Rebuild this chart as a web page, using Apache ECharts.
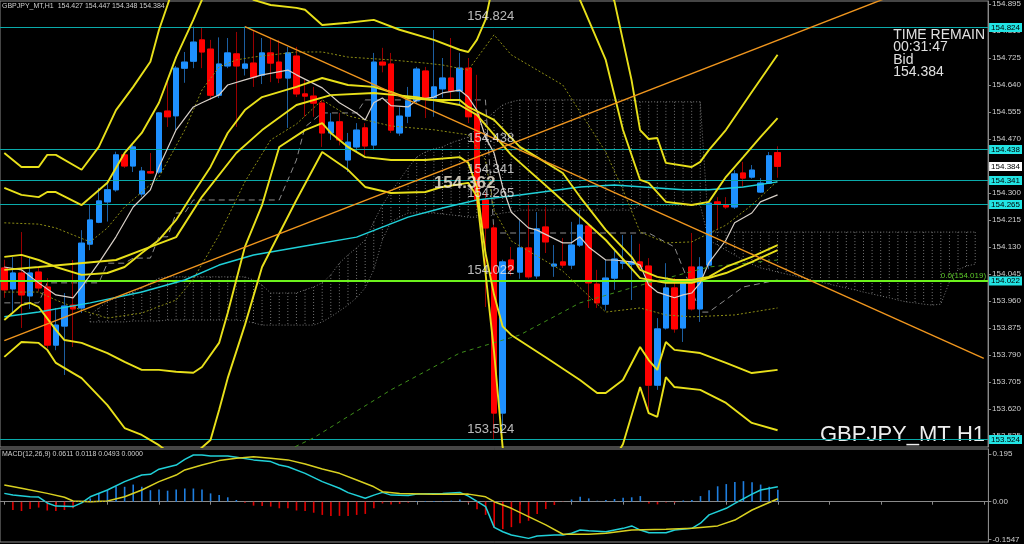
<!DOCTYPE html>
<html><head><meta charset="utf-8">
<script src="https://cdn.jsdelivr.net/npm/echarts@6/dist/echarts.min.js"></script>
<style>html,body{margin:0;padding:0;background:#000;overflow:hidden}#c{width:1024px;height:544px}</style>
</head><body><div id="c"></div>
<script>
// ---------- DATA ----------
const ohlc = [
[154.064,153.995,153.970,154.090],[153.998,154.048,153.922,154.098],[154.048,153.979,153.875,154.177],
[153.976,154.048,153.935,154.098],[154.051,154.001,153.990,154.064],[154.004,153.821,153.810,154.032],
[153.821,153.884,153.805,153.938],[153.881,153.944,153.727,153.985],[153.947,153.935,153.815,154.089],
[153.938,154.142,153.922,154.183],[154.139,154.215,154.120,154.262],[154.208,154.275,154.205,154.316],
[154.272,154.310,154.210,154.331],[154.310,154.420,154.304,154.430],[154.420,154.385,154.379,154.427],
[154.385,154.445,154.366,154.451],[154.297,154.369,154.288,154.382],[154.367,154.363,154.360,154.426],
[154.366,154.552,154.360,154.555],[154.558,154.540,154.508,154.656],[154.543,154.693,154.498,154.700],
[154.693,154.712,154.647,154.744],[154.715,154.775,154.693,154.824],[154.782,154.744,154.693,154.820],
[154.753,154.608,154.593,154.782],[154.608,154.706,154.599,154.790],[154.700,154.741,154.693,154.788],
[154.738,154.700,154.508,154.807],[154.693,154.706,154.670,154.824],[154.709,154.665,154.634,154.813],
[154.671,154.741,154.643,154.788],[154.741,154.709,154.649,154.788],[154.712,154.662,154.646,154.782],
[154.662,154.741,154.505,154.760],[154.731,154.612,154.602,154.760],[154.612,154.605,154.540,154.656],
[154.605,154.583,154.540,154.634],[154.583,154.489,154.445,154.593],[154.489,154.523,154.467,154.552],
[154.524,154.467,154.450,154.552],[154.404,154.460,154.366,154.489],[154.445,154.498,154.430,154.520],
[154.505,154.448,154.420,154.520],[154.451,154.712,154.435,154.741],[154.712,154.703,154.680,154.757],
[154.706,154.498,154.489,154.741],[154.489,154.542,154.480,154.570],[154.542,154.590,154.520,154.634],
[154.590,154.690,154.583,154.697],[154.684,154.600,154.536,154.697],[154.600,154.634,154.540,154.813],
[154.628,154.662,154.600,154.725],[154.662,154.621,154.593,154.788],[154.621,154.693,154.577,154.741],
[154.693,154.540,154.520,154.725],[154.546,154.278,154.255,154.672],[154.278,154.190,153.941,154.300],
[154.190,153.607,153.524,154.200],[153.607,154.083,153.550,154.090],[154.089,154.058,154.040,154.130],
[154.051,154.127,154.030,154.215],[154.127,154.036,154.030,154.270],[154.039,154.187,154.030,154.240],
[154.193,154.146,154.111,154.256],[154.070,154.076,154.036,154.136],[154.083,154.073,154.064,154.158],
[154.073,154.136,154.060,154.209],[154.136,154.199,154.130,154.246],[154.196,154.017,153.938,154.199],
[154.013,153.954,153.938,154.058],[153.950,154.032,153.930,154.089],[154.032,154.092,153.995,154.120],
[154.079,154.083,154.060,154.168],[154.076,154.083,153.963,154.168],[154.083,154.067,154.060,154.140],
[154.070,153.695,153.617,154.095],[153.695,153.872,153.680,153.906],[153.875,154.001,153.870,154.079],
[154.001,153.872,153.860,154.032],[153.875,154.020,153.831,154.026],[154.067,153.935,153.930,154.174],
[153.935,154.067,153.894,154.098],[154.073,154.268,154.060,154.272],[154.272,154.265,154.183,154.287],
[154.262,154.256,154.250,154.287],[154.256,154.360,154.250,154.372],[154.363,154.347,154.319,154.398],
[154.350,154.372,154.345,154.388],[154.303,154.331,154.300,154.347],[154.331,154.417,154.330,154.429],
[154.427,154.384,154.348,154.447]
];
const slotCount = 115;
const priceTicks = [154.895,154.810,154.725,154.640,154.555,154.470,154.385,154.300,154.215,154.130,154.045,153.960,153.875,153.790,153.705,153.620,153.535];
const levelLines = [154.824,154.438,154.341,154.265,153.524];
const fiboLevel = 154.022;
const fiboText = '0.0(154.019)';
const bidPrice = 154.384;
const priceNotes = [[54,154.824,'154.824'],[54,154.438,'154.438'],[54,154.341,'154.341'],[54,154.265,'154.265'],[54,154.022,'154.022'],[54,153.524,'153.524']];
const bigNote = [50,154.332,'154.362'];

const maLong = [[0,153.910],[4,153.925],[10,153.954],[16,153.988],[21,154.026],[25,154.073],[29,154.105],[35,154.133],[41,154.161],[47,154.224],[51,154.253],[55,154.278],[60,154.294],[67,154.319],[71,154.325],[79,154.310],[82,154.310],[86,154.319],[90,154.335]];
const maShort = [[0,154.067],[2,154.058],[4,154.017],[6,153.979],[8,153.970],[9,154.004],[11,154.080],[13,154.162],[15,154.256],[17,154.310],[18,154.382],[20,154.499],[22,154.571],[23,154.584],[25,154.609],[26,154.640],[28,154.656],[30,154.672],[33,154.687],[34,154.672],[37,154.631],[39,154.584],[41,154.552],[42,154.530],[43,154.584],[44,154.599],[45,154.575],[47,154.571],[48,154.593],[50,154.602],[51,154.615],[53,154.624],[54,154.602],[55,154.561],[56,154.476],[57,154.426],[58,154.319],[59,154.240],[61,154.190],[62,154.183],[65,154.143],[66,154.143],[67,154.162],[68,154.130],[70,154.089],[71,154.089],[73,154.083],[74,154.073],[75,154.010],[76,153.988],[78,153.970],[79,153.979],[80,153.985],[81,154.017],[82,154.080],[84,154.152],[85,154.206],[87,154.237],[88,154.272],[90,154.294]];
const maDashed = [[33,153.490],[36,153.529],[45,153.680],[53,153.796],[60,153.853],[67,153.954],[75,154.017],[82,154.067],[90,154.089]];
const bbMid = [[0,154.099],[2,154.105],[4,154.089],[6,154.067],[9,154.042],[12,154.048],[14,154.067],[16,154.111],[18,154.152],[20,154.215],[22,154.300],[24,154.382],[26,154.489],[28,154.561],[30,154.602],[34,154.634],[37,154.662],[40,154.640],[43,154.634],[45,154.618],[47,154.599],[50,154.593],[53,154.593],[54,154.571],[57,154.530],[60,154.445],[62,154.413],[65,154.363],[67,154.288],[70,154.184],[73,154.099],[74,154.058],[76,154.036],[78,154.026],[80,154.026],[82,154.036],[84,154.067],[87,154.099],[90,154.136]];
const maSlow = [[0,154.058],[4,154.067],[13,154.089],[16,154.120],[20,154.161],[23,154.288],[27,154.426],[30,154.498],[34,154.577],[38,154.608],[43,154.615],[48,154.602],[53,154.577],[55,154.546],[59,154.420],[64,154.300],[70,154.152],[74,154.032],[77,154.017],[80,154.017],[84,154.048],[87,154.083],[90,154.120]];
const bbUp3 = [[0,154.426],[2,154.382],[4,154.382],[5,154.420],[6,154.420],[9,154.373],[11,154.445],[13,154.561],[15,154.634],[17,154.713],[18,154.813],[19,154.892],[20,154.971],[24,155.05],[30,154.97],[37,154.93],[45,154.95],[50,154.93],[54,154.92],[57,155.1],[60,155.3],[65,155.3],[67,155.15],[69,154.98],[71,154.905],[73,154.656],[74,154.498],[75,154.470],[76,154.473],[77,154.395],[80,154.382],[81,154.398],[82,154.435],[84,154.499],[87,154.618],[90,154.735]];
const bbUp2 = [[0,154.316],[2,154.294],[4,154.287],[5,154.303],[6,154.303],[9,154.262],[12,154.332],[14,154.426],[16,154.489],[18,154.584],[20,154.728],[22,154.845],[23,154.908],[24,154.99],[26,155.0],[29,154.908],[31,154.892],[34,154.883],[35,154.877],[37,154.829],[40,154.836],[43,154.845],[46,154.814],[50,154.782],[53,154.751],[54,154.744],[55,154.782],[56,154.845],[57,154.971],[58,155.2],[60,155.25],[64,155.05],[67,154.908],[70,154.719],[72,154.499],[74,154.341],[75,154.332],[77,154.272],[80,154.262],[82,154.272],[84,154.351],[86,154.413],[88,154.476],[90,154.536]];
const bbLow2 = [[0,153.900],[2,153.947],[3,153.954],[4,153.941],[6,153.869],[7,153.837],[9,153.828],[12,153.796],[14,153.768],[16,153.743],[18,153.743],[20,153.737],[22,153.734],[23,153.752],[25,153.828],[26,153.922],[27,154.026],[28,154.130],[30,154.262],[32,154.445],[35,154.498],[37,154.520],[38,154.489],[40,154.445],[42,154.413],[45,154.404],[49,154.404],[53,154.413],[54,154.395],[55,154.319],[56,154.111],[57,153.980],[58,153.880],[59,153.853],[63,153.783],[67,153.711],[69,153.670],[70,153.670],[72,153.711],[74,153.815],[75,153.774],[76,153.743],[77,153.831],[78,153.806],[81,153.796],[84,153.765],[87,153.733],[90,153.743]];
const bbLow3 = [[0,153.784],[2,153.831],[4,153.828],[5,153.806],[6,153.765],[8,153.733],[9,153.717],[12,153.632],[14,153.560],[16,153.538],[18,153.506],[20,153.465],[22,153.475],[24,153.522],[25,153.617],[26,153.717],[28,153.884],[30,154.067],[34,154.278],[37,154.429],[40,154.373],[42,154.319],[45,154.300],[49,154.303],[51,154.319],[54,154.332],[55,154.290],[56,154.050],[57,153.800],[58,153.500],[59,153.390],[65,153.270],[70,153.418],[72,153.509],[74,153.689],[75,153.607],[76,153.595],[77,153.720],[78,153.689],[81,153.680],[84,153.639],[87,153.576],[90,153.553]];
const bbUp1 = [[0,154.206],[4,154.202],[6,154.190],[8,154.168],[10,154.146],[12,154.190],[14,154.256],[18,154.350],[21,154.498],[23,154.624],[25,154.697],[27,154.719],[29,154.728],[34,154.744],[37,154.744],[40,154.728],[45,154.719],[49,154.709],[51,154.703],[54,154.687],[57,154.798],[59,154.735],[65,154.640],[70,154.429],[72,154.310],[74,154.177],[77,154.143],[80,154.146],[84,154.199],[87,154.262],[90,154.338]];
const bbLow1 = [[0,153.988],[4,153.988],[6,153.963],[9,153.931],[12,153.906],[16,153.922],[20,153.963],[22,154.029],[25,154.168],[28,154.335],[31,154.467],[34,154.517],[37,154.593],[40,154.543],[45,154.511],[50,154.499],[54,154.483],[56,154.404],[57,154.246],[59,154.149],[65,154.054],[70,153.925],[74,153.938],[77,153.916],[80,153.910],[85,153.916],[90,153.938]];
const kijun = [[0,153.954],[4,153.954],[5,154.017],[11,154.017],[12,154.079],[14,154.079],[15,154.095],[17,154.095],[18,154.162],[19,154.162],[20,154.237],[21,154.237],[22,154.278],[32,154.278],[34,154.404],[35,154.508],[37,154.552],[41,154.552],[42,154.593],[56,154.593],[57,154.174],[75,154.174],[78,154.130],[80,153.995],[81,153.925],[82,153.925],[86,154.004],[90,154.026]];
const cloud = [
[10,153.916,153.894],[11,153.938,153.894],[12,153.957,153.894],[13,153.970,153.894],[14,153.979,153.894],[15,153.988,153.897],[16,154.001,153.897],[17,154.017,153.897],[18,154.032,153.897],[19,154.036,153.900],[20,154.036,153.900],[21,154.036,153.900],[22,154.036,153.900],[23,154.036,153.900],[24,154.036,153.900],[25,154.036,153.900],[26,154.036,153.900],[27,154.036,153.900],[28,154.036,153.897],[29,154.026,153.891],[30,154.010,153.884],[31,153.985,153.884],[32,153.985,153.884],[33,153.985,153.884],[34,153.985,153.884],[35,153.995,153.884],[36,154.004,153.884],[37,154.017,153.894],[38,154.042,153.910],[39,154.079,153.928],[40,154.105,153.947],[41,154.127,153.970],[42,154.152,154.001],[43,154.209,154.058],[44,154.262,154.152],[45,154.303,154.209],[46,154.341,154.224],[47,154.379,154.237],[48,154.413,154.237],[49,154.429,154.237],[50,154.439,154.237],[51,154.445,154.234],[52,154.458,154.231],[53,154.467,154.228],[54,154.476,154.224],[55,154.505,154.224],[56,154.530,154.224],[57,154.555,154.231],[58,154.577,154.237],[59,154.587,154.240],
[60,154.593,154.246],[61,154.593,154.246],[62,154.593,154.246],[63,154.593,154.246],[64,154.593,154.246],[65,154.593,154.246],[66,154.593,154.246],[67,154.593,154.246],[68,154.593,154.246],[69,154.593,154.246],[70,154.593,154.246],[71,154.593,154.246],[72,154.593,154.246],[73,154.593,154.246],[74,154.587,154.262],[75,154.587,154.262],[76,154.587,154.262],[77,154.587,154.262],[78,154.587,154.262],[79,154.587,154.262],[80,154.587,154.262],[81,154.587,154.262],
[82,154.177,154.152],[83,154.177,154.136],[84,154.177,154.120],[85,154.177,154.105],[86,154.177,154.089],[87,154.177,154.076],[88,154.177,154.064],[89,154.177,154.058],[90,154.177,154.051],[91,154.177,154.045],[92,154.177,154.039],[93,154.177,154.032],[94,154.177,154.026],[95,154.177,154.020],[96,154.177,154.013],[97,154.177,154.007],[98,154.177,154.001],[99,154.177,153.995],[100,154.177,153.988],[101,154.177,153.982],[102,154.177,153.976],[103,154.177,153.970],[104,154.177,153.963],[105,154.177,153.957],[106,154.177,153.954],[107,154.177,153.950],[108,154.177,153.947],[109,154.177,153.950],[110,154.177,154.020],[111,154.177,154.058],[112,154.177,154.070],[113,154.177,154.076]
];
const trendUp = [[0,153.835],[114,155.033]];
const trendDown = [[28,154.824],[114,153.779]];

const macdMain = [[0,0.034],[1,0.027],[3,0.020],[4,0.019],[5,-0.005],[6,-0.018],[8,-0.020],[9,-0.005],[10,0.020],[12,0.048],[14,0.082],[16,0.109],[17,0.112],[18,0.133],[20,0.150],[21,0.173],[22,0.191],[23,0.191],[24,0.187],[26,0.187],[27,0.182],[29,0.171],[31,0.164],[32,0.150],[33,0.143],[35,0.116],[37,0.082],[39,0.055],[40,0.037],[42,0.014],[43,0.027],[44,0.038],[45,0.027],[47,0.025],[48,0.031],[51,0.034],[53,0.038],[54,0.023],[56,-0.020],[57,-0.105],[58,-0.123],[59,-0.136],[61,-0.150],[62,-0.140],[64,-0.136],[65,-0.136],[66,-0.129],[67,-0.116],[68,-0.119],[70,-0.123],[72,-0.109],[73,-0.099],[74,-0.116],[75,-0.127],[77,-0.127],[78,-0.116],[80,-0.109],[81,-0.088],[82,-0.054],[84,-0.027],[85,-0.007],[87,0.031],[88,0.048],[90,0.061]];
const macdSignal = [[0,0.068],[2,0.055],[5,0.034],[7,0.018],[8,0.003],[10,0.000],[12,0.003],[14,0.020],[16,0.048],[18,0.082],[20,0.109],[21,0.130],[23,0.150],[25,0.168],[27,0.178],[29,0.184],[31,0.178],[33,0.171],[35,0.154],[37,0.134],[39,0.116],[41,0.089],[43,0.061],[44,0.041],[46,0.034],[50,0.030],[54,0.031],[56,0.020],[57,0.000],[59,-0.027],[61,-0.061],[63,-0.095],[65,-0.133],[68,-0.133],[70,-0.129],[73,-0.116],[77,-0.113],[80,-0.109],[83,-0.099],[85,-0.075],[87,-0.034],[90,0.012]];
const macdHist = [0,-0.034,-0.038,-0.030,-0.024,-0.036,-0.038,-0.034,-0.027,0.003,0.0135,0.034,0.047,0.063,0.061,0.070,0.061,0.047,0.050,0.045,0.050,0.054,0.054,0.050,0.034,0.027,0.018,0.007,-0.004,-0.016,-0.018,-0.020,-0.027,-0.027,-0.036,-0.038,-0.045,-0.054,-0.058,-0.058,-0.058,-0.054,-0.050,-0.027,-0.007,-0.011,-0.009,-0.004,0.003,0.003,0.003,0.003,0.004,0.009,-0.004,-0.031,-0.054,-0.108,-0.112,-0.104,-0.088,-0.078,-0.050,-0.030,-0.0135,-0.001,0.009,0.020,0.0135,0.004,0.007,0.011,0.016,0.018,0.023,-0.007,-0.011,-0.003,-0.004,0.005,0.007,0.023,0.047,0.063,0.072,0.081,0.084,0.080,0.070,0.061,0.049];
const macdTicks = [0.195, 0, -0.1547];

// ---------- CHART ----------
const FONT = '"Liberation Sans", Arial, sans-serif';
const YEL = '#e8e01a';
const cats = Array.from({length: slotCount}, (_, i) => String(i));
const chart = echarts.init(document.getElementById('c'), null, {renderer: 'canvas'});

const lineSer = (data, color, width, type, z) => ({type:'line', xAxisIndex:0, yAxisIndex:0, data, symbol:'none', silent:true, connectNulls:true, clip:true, z: z === undefined ? 5 : z, lineStyle:{color, width, type: type || 'solid', opacity:1}});

// horizontal level series: a full-width line plus a price tag in the right margin
const hLineSer = (values, lineColor, lineWidth, tagBg, showLine, z) => ({
  type:'custom', xAxisIndex:0, yAxisIndex:0, data: values.map(v => [v]), silent:true, clip:false, z: z,
  renderItem: (params, api) => {
    const cs = params.coordSys;
    const v = api.value(0);
    const y = Math.round(api.coord([0, v])[1]) + (lineWidth % 2 ? 0.5 : 0);
    const kids = [];
    if (showLine) kids.push({type:'line', shape:{x1: cs.x, y1: y, x2: cs.x + cs.width, y2: y}, style:{stroke: lineColor, lineWidth: lineWidth}});
    if (tagBg) kids.push({type:'text', x: cs.x + cs.width + 1, y: y, style:{text: v.toFixed(3), fill:'#000', backgroundColor: tagBg, padding:[1,2,0,2], font:'8px ' + FONT, verticalAlign:'middle', align:'left', lineHeight:8}});
    return {type:'group', children: kids};
  }
});

const bodies = ohlc.map(d => [d[0], d[1], Math.min(d[0],d[1]), Math.max(d[0],d[1])]);
const cloudTop = cloud.map(c => [c[0], c[1]]);
const cloudBot = cloud.map(c => [c[0], c[2]]);

const option = {
  animation: false,
  backgroundColor: '#000',
  grid: [
    {left: -6.3, top: 1, width: 994.7, height: 446, show: true, borderColor: '#8a8a8a', borderWidth: 1, containLabel: false},
    {left: -6.3, top: 449, width: 994.7, height: 93, show: true, borderColor: '#8a8a8a', borderWidth: 1, containLabel: false}
  ],
  xAxis: [
    {type:'category', data: cats, gridIndex:0, boundaryGap:true, axisLine:{show:false}, axisTick:{show:false}, axisLabel:{show:false}, splitLine:{show:false}},
    {type:'category', data: cats, gridIndex:1, boundaryGap:true, axisLine:{show:true, lineStyle:{color:'#8a8a8a'}}, axisTick:{show:true, interval:5, alignWithLabel:true, length:3, lineStyle:{color:'#8a8a8a'}}, axisLabel:{show:false}, splitLine:{show:false}}
  ],
  yAxis: [
    {type:'value', gridIndex:0, position:'right', min:153.5002, max:154.9045, scale:true,
     axisLine:{show:true, lineStyle:{color:'#8a8a8a'}}, splitLine:{show:false},
     axisTick:{show:true, length:3, customValues: priceTicks, lineStyle:{color:'#8a8a8a'}},
     axisLabel:{show:true, customValues: priceTicks, formatter: v => v.toFixed(3), color:'#cfcfcf', fontSize:8, fontFamily:FONT, margin:4}},
    {type:'value', gridIndex:1, position:'right', min:-0.1648, max:0.2155,
     axisLine:{show:true, lineStyle:{color:'#8a8a8a'}}, splitLine:{show:false},
     axisTick:{show:true, length:3, customValues: macdTicks, lineStyle:{color:'#8a8a8a'}},
     axisLabel:{show:true, customValues: macdTicks, formatter: v => v === 0 ? '0.00' : (v === 0.195 ? '0.195' : String(v)), color:'#cfcfcf', fontSize:8, fontFamily:FONT, margin:4}}
  ],
  series: [
    {type:'custom', xAxisIndex:0, yAxisIndex:0, data: cloud, silent:true, z:1, clip:true,
     renderItem: (params, api) => {
       const a = api.coord([api.value(0), api.value(1)]);
       const b = api.coord([api.value(0), api.value(2)]);
       return {type:'line', shape:{x1:a[0], y1:a[1], x2:b[0], y2:b[1]}, style:{stroke:'#727272', lineWidth:1, lineDash:[1,2]}};
     }},
    lineSer(cloudTop, '#7a7a7a', 1, [1,2], 1),
    lineSer(cloudBot, '#7a7a7a', 1, [1,2], 1),
    lineSer(kijun, '#8c8c8c', 1, [6,4], 1),
    hLineSer(levelLines, '#0aaaaa', 1, '#22e4e4', true, 4),
    hLineSer([fiboLevel], '#6cf21c', 2, '#22e4e4', true, 4),
    hLineSer([bidPrice], '#000', 1, '#ffffff', false, 9),
    {type:'line', xAxisIndex:0, yAxisIndex:0, data:[], symbol:'none', silent:true, z:9,
     markLine:{silent:true, symbol:['none','none'], animation:false,
       data:[{yAxis: fiboLevel, lineStyle:{color:'#66f01e', width:0.01}, label:{show:true, position:'insideEndTop', distance:2, formatter: fiboText, color:'#5cc82a', fontSize:8, fontFamily:FONT}}]}},
    {type:'candlestick', xAxisIndex:0, yAxisIndex:0, data: ohlc, barWidth:6, z:2, silent:true,
     itemStyle:{color:'#1e90ff', color0:'#ff0000', borderColor:'#1c5ea0', borderColor0:'#9a0000', borderWidth:1}},
    {type:'candlestick', xAxisIndex:0, yAxisIndex:0, data: bodies, barWidth:6, z:3, silent:true,
     itemStyle:{color:'#1e90ff', color0:'#ff0000', borderColor:'#1e90ff', borderColor0:'#ff0000', borderWidth:1}},
    lineSer(bbUp1, '#8c8c14', 1, [2,2]),
    lineSer(bbLow1, '#8c8c14', 1, [2,2]),
    lineSer(maLong, '#1fd0d8', 1.5),
    lineSer(maShort, '#d8d0c8', 1.2),
    lineSer(maDashed, '#3f8f1a', 1, [4,4]),
    lineSer(bbMid, YEL, 1.9),
    lineSer(maSlow, YEL, 1.9),
    lineSer(bbUp2, YEL, 1.9),
    lineSer(bbLow2, YEL, 1.9),
    lineSer(bbUp3, YEL, 1.9),
    lineSer(bbLow3, YEL, 1.9),
    lineSer(trendUp, '#f0961e', 1.4),
    lineSer(trendDown, '#f0961e', 1.4),
    {type:'scatter', xAxisIndex:0, yAxisIndex:0, data: priceNotes, symbolSize:0, silent:true, z:8,
     label:{show:true, formatter: p => p.data[2], position:'top', align:'left', offset:[-1,1], color:'#e6e6e6', fontSize:13, fontFamily:FONT}},
    {type:'scatter', xAxisIndex:0, yAxisIndex:0, data: [bigNote], symbolSize:0, silent:true, z:8,
     label:{show:true, formatter: p => p.data[2], position:'right', distance:0, color:'#f2ead8', fontSize:17, fontWeight:'bold', fontFamily:FONT}},
    {type:'bar', xAxisIndex:1, yAxisIndex:1, data: macdHist, barWidth:1.6, silent:true,
     itemStyle:{color: p => p.value >= 0 ? '#1f7fe0' : '#e00000'},
     markLine:{silent:true, symbol:['none','none'], data:[{yAxis:0}], label:{show:false}, lineStyle:{color:'#8a8a8a', type:[1,2], width:1}}},
    {type:'line', xAxisIndex:1, yAxisIndex:1, data: macdMain, symbol:'none', silent:true, lineStyle:{color:'#20d0d8', width:1.5}},
    {type:'line', xAxisIndex:1, yAxisIndex:1, data: macdSignal, symbol:'none', silent:true, lineStyle:{color:'#d8d020', width:1.5}}
  ],
  graphic: [
    {type:'text', left:2, top:3, silent:true, style:{text:'GBPJPY_MT,H1  154.427 154.447 154.348 154.384', fill:'#d0d0d0', font:'7px ' + FONT}},
    {type:'text', left:2, top:451, silent:true, style:{text:'MACD(12,26,9) 0.0611 0.0118 0.0493 0.0000', fill:'#d0d0d0', font:'7px ' + FONT}},
    {type:'text', right:39, top:28, silent:true, style:{text:'TIME REMAIN\n00:31:47\nBid\n154.384', fill:'#e0e0e0', font:'14px ' + FONT, align:'right', lineHeight:12.5}},
    {type:'text', right:39, top:424, silent:true, style:{text:'GBPJPY_MT H1', fill:'#eeeeee', font:'22px ' + FONT}}
  ]
};
chart.setOption(option);
</script>
</body></html>
